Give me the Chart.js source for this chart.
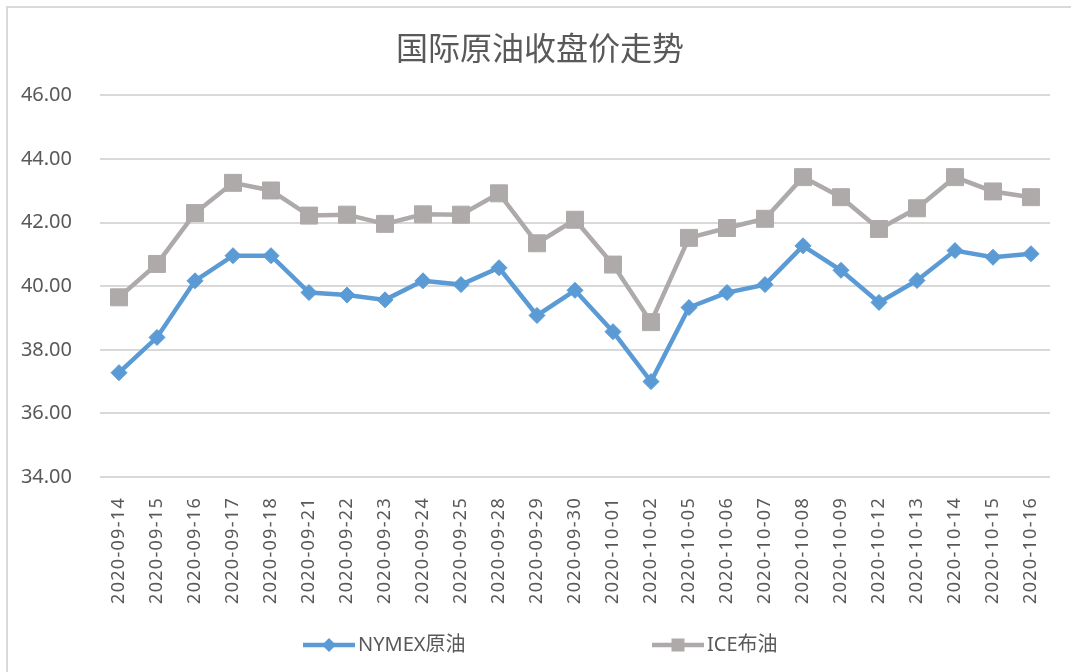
<!DOCTYPE html>
<html>
<head>
<meta charset="utf-8">
<script src="https://cdn.jsdelivr.net/npm/chart.js@4.4.0/dist/chart.umd.min.js"></script>
<style>
html,body{margin:0;padding:0;background:#fff;}
#wrap{width:1071px;height:672px;position:relative;}
</style>
</head>
<body>
<div id="wrap"><canvas id="c" width="1071" height="672"></canvas></div>
<script>
const chartTitle = '国际原油收盘价走势';
const categories = ['2020-09-14','2020-09-15','2020-09-16','2020-09-17','2020-09-18','2020-09-21','2020-09-22','2020-09-23','2020-09-24','2020-09-25','2020-09-28','2020-09-29','2020-09-30','2020-10-01','2020-10-02','2020-10-05','2020-10-06','2020-10-07','2020-10-08','2020-10-09','2020-10-12','2020-10-13','2020-10-14','2020-10-15','2020-10-16'];
const nymexName = 'NYMEX原油';
const nymexValues = [37.28,38.39,40.17,40.96,40.96,39.80,39.72,39.57,40.17,40.05,40.58,39.08,39.87,38.57,37.00,39.33,39.80,40.05,41.27,40.50,39.49,40.18,41.12,40.91,41.02];
const iceName = 'ICE布油';
const iceValues = [39.65,40.70,42.30,43.25,43.01,42.22,42.25,41.96,42.26,42.25,42.92,41.35,42.09,40.68,38.87,41.52,41.83,42.12,43.43,42.80,41.80,42.45,43.43,42.98,42.80];
const yMin = 34, yMax = 46, yStep = 2;

const LATIN = "'Noto Sans','Noto Sans CJK SC',sans-serif";
const CJK = "'Noto Sans CJK SC','Noto Sans',sans-serif";
const TEXT = '#595959';
const BLUE = '#5B9BD5';
const GREY = '#AEAAAA';

const framePlugin = {
  id: 'frame',
  beforeDraw(chart) {
    const ctx = chart.ctx;
    ctx.save();
    ctx.fillStyle = '#fff';
    ctx.fillRect(0, 0, chart.width, chart.height);
    ctx.strokeStyle = '#D9D9D9';
    ctx.lineWidth = 2;
    ctx.beginPath();
    ctx.moveTo(7, chart.height);
    ctx.lineTo(7, 7);
    ctx.lineTo(chart.width, 7);
    ctx.stroke();
    ctx.restore();
    const sx = chart.scales.x;
    if (sx && !sx.__ls) {
      const orig = sx.drawLabels;
      sx.drawLabels = function (a) {
        this.ctx.save();
        this.ctx.letterSpacing = '1.3px';
        orig.call(this, a);
        this.ctx.restore();
      };
      sx.__ls = true;
    }
  }
};

const legendPlugin = {
  id: 'customLegend',
  afterDraw(chart) {
    const ctx = chart.ctx;
    const xs = [303, 652];
    const y = 645;
    chart.data.datasets.forEach((ds, i) => {
      const x0 = xs[i];
      ctx.save();
      ctx.strokeStyle = ds.borderColor;
      ctx.lineWidth = 4.5;
      ctx.beginPath();
      ctx.moveTo(x0, y);
      ctx.lineTo(x0 + 52, y);
      ctx.stroke();
      ctx.fillStyle = ds.borderColor;
      const cx = x0 + 26;
      if (ds.pointStyle === 'rectRot') {
        ctx.beginPath();
        ctx.moveTo(cx - 7, y);
        ctx.lineTo(cx, y - 7);
        ctx.lineTo(cx + 7, y);
        ctx.lineTo(cx, y + 7);
        ctx.closePath();
        ctx.fill();
      } else {
        ctx.fillRect(cx - 6.5, y - 6.5, 13, 13);
      }
      ctx.fillStyle = TEXT;
      ctx.font = '20px ' + LATIN;
      ctx.textBaseline = 'middle';
      ctx.textAlign = 'left';
      ctx.fillText(ds.label, x0 + 55, y);
      ctx.restore();
    });
  }
};

new Chart(document.getElementById('c'), {
  type: 'line',
  data: {
    labels: categories,
    datasets: [
      {
        label: nymexName,
        data: nymexValues,
        borderColor: BLUE,
        backgroundColor: BLUE,
        borderWidth: 4.5,
        pointStyle: 'rectRot',
        pointRadius: 8,
        pointBorderWidth: 1,
        pointBackgroundColor: BLUE,
        pointBorderColor: BLUE,
        tension: 0,
        yAxisID: 'y'
      },
      {
        label: iceName,
        data: iceValues,
        borderColor: GREY,
        backgroundColor: GREY,
        borderWidth: 4.5,
        pointStyle: 'rect',
        pointRadius: 12,
        pointBorderWidth: 1,
        pointBackgroundColor: GREY,
        pointBorderColor: GREY,
        tension: 0,
        yAxisID: 'y'
      }
    ]
  },
  options: {
    responsive: false,
    devicePixelRatio: 1,
    animation: false,
    events: [],
    layout: { padding: { left: 9, right: 0, top: 0, bottom: 50 } },
    plugins: {
      legend: { display: false },
      tooltip: { enabled: false },
      title: {
        display: true,
        text: chartTitle,
        color: TEXT,
        font: { family: CJK, size: 32, weight: 'normal' },
        padding: { top: 29, bottom: 28 }
      }
    },
    scales: {
      x: {
        offset: true,
        grid: { display: false },
        border: { display: false },
        ticks: {
          autoSkip: false,
          maxRotation: 90,
          minRotation: 90,
          color: TEXT,
          font: { family: LATIN, size: 18 },
          padding: 12
        },
        afterFit(s) { s.height = 145; }
      },
      y: {
        min: yMin,
        max: yMax,
        grid: { color: '#D9D9D9', lineWidth: 2, drawTicks: false },
        border: { display: false },
        ticks: {
          stepSize: yStep,
          color: TEXT,
          font: { family: LATIN, size: 20 },
          padding: 28,
          callback: v => Number(v).toFixed(2)
        },
        afterFit(s) { s.width = 91; }
      },
      yr: {
        position: 'right',
        display: true,
        grid: { display: false },
        border: { display: false },
        ticks: { display: false },
        afterFit(s) { s.width = 21; }
      }
    }
  },
  plugins: [framePlugin, legendPlugin]
});
</script>
</body>
</html>
